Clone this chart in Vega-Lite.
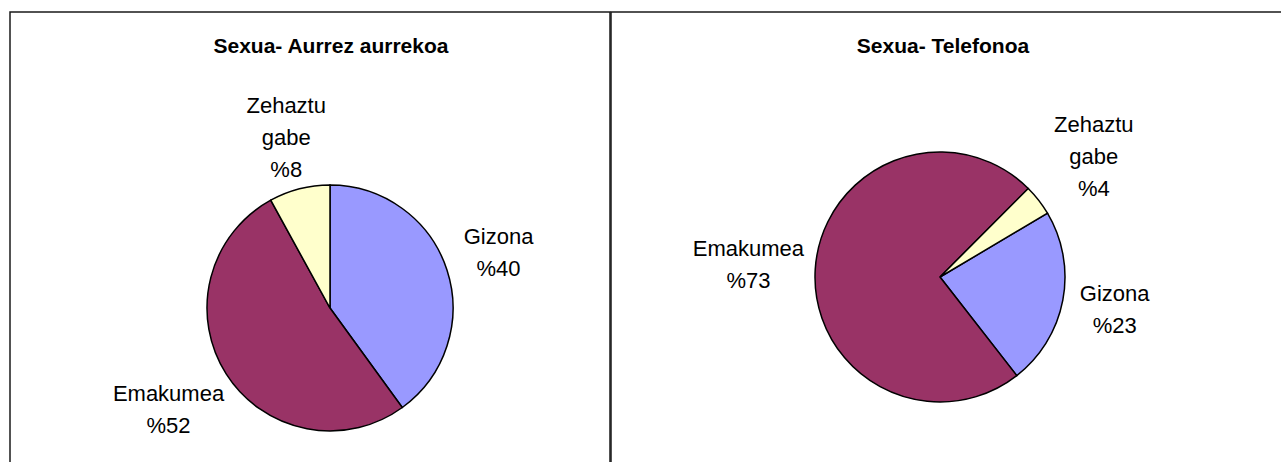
{
  "$schema": "https://vega.github.io/schema/vega-lite/v6.json",
  "background": "white",
  "padding": {"left": 9, "top": 11, "right": 0, "bottom": 0},
  "spacing": -1.5,
  "config": {
    "view": {"stroke": "#1a1a1a", "strokeWidth": 1.5},
    "font": "Liberation Sans"
  },
  "datasets": {
    "aurrez": [
      {"name": "Gizona", "value": 40, "ord": 1, "label": "Gizona\n%40"},
      {"name": "Emakumea", "value": 52, "ord": 2, "label": "Emakumea\n%52"},
      {"name": "Zehaztu gabe", "value": 8, "ord": 3, "label": "Zehaztu\ngabe\n%8"}
    ],
    "telefonoa": [
      {"name": "Gizona", "value": 23, "ord": 1, "label": "Gizona\n%23"},
      {"name": "Emakumea", "value": 73, "ord": 2, "label": "Emakumea\n%73"},
      {"name": "Zehaztu gabe", "value": 4, "ord": 3, "label": "Zehaztu\ngabe\n%4"}
    ]
  },
  "hconcat": [
    {
      "width": 600,
      "height": 460,
      "view": {"stroke": "#1a1a1a", "strokeWidth": 1.5, "fill": "white"},
      "data": {"name": "aurrez"},
      "title": {"text": "Sexua- Aurrez aurrekoa", "anchor": "middle", "dx": 21, "offset": -62, "baseline": "alphabetic", "fontSize": 21, "fontWeight": "bold", "color": "black", "font": "Liberation Sans"},
      "encoding": {
        "theta": {"field": "value", "type": "quantitative", "stack": true, "scale": {"range": [0, 6.283185]}},
        "order": {"field": "ord", "type": "quantitative"}
      },
      "layer": [
        {
          "mark": {"type": "arc", "outerRadius": 123, "stroke": "black", "strokeWidth": 1.5, "xOffset": 20, "yOffset": 66},
          "encoding": {"color": {"field": "name", "type": "nominal", "scale": {"domain": ["Gizona", "Emakumea", "Zehaztu gabe"], "range": ["#9999FF", "#993366", "#FFFFCC"]}, "legend": null}}
        },
        {
          "mark": {
            "type": "text", "xOffset": 20, "yOffset": 66, "fontSize": 22, "lineBreak": "\n", "lineHeight": 32, "align": "center", "baseline": "middle", "color": "black",
            "radius": {"expr": "123 + 8.2*length(split(datum.label,'\\n')[0])*abs(sin(PI*(datum.value_start+datum.value_end)/100)) + (16*length(split(datum.label,'\\n'))-8)*abs(cos(PI*(datum.value_start+datum.value_end)/100))"},
            "dy": {"expr": "-16*(length(split(datum.label,'\\n'))-1)"}
          },
          "encoding": {"text": {"field": "label", "type": "nominal"}}
        }
      ]
    },
    {
      "width": 680,
      "height": 460,
      "view": {"stroke": "#1a1a1a", "strokeWidth": 1.5, "fill": "white"},
      "data": {"name": "telefonoa"},
      "title": {"text": "Sexua- Telefonoa", "anchor": "middle", "dx": -8, "offset": -62, "baseline": "alphabetic", "fontSize": 21, "fontWeight": "bold", "color": "black", "font": "Liberation Sans"},
      "encoding": {
        "theta": {"field": "value", "type": "quantitative", "stack": true, "scale": {"range": [1.035, 7.318185]}},
        "order": {"field": "ord", "type": "quantitative"}
      },
      "layer": [
        {
          "mark": {"type": "arc", "outerRadius": 125, "stroke": "black", "strokeWidth": 1.5, "xOffset": -11, "yOffset": 35},
          "encoding": {"color": {"field": "name", "type": "nominal", "scale": {"domain": ["Gizona", "Emakumea", "Zehaztu gabe"], "range": ["#9999FF", "#993366", "#FFFFCC"]}, "legend": null}}
        },
        {
          "mark": {
            "type": "text", "xOffset": -11, "yOffset": 35, "fontSize": 22, "lineBreak": "\n", "lineHeight": 32, "align": "center", "baseline": "middle", "color": "black",
            "radius": {"expr": "125 + 8.2*length(split(datum.label,'\\n')[0])*abs(sin(1.035 + PI*(datum.value_start+datum.value_end)/100)) + (16*length(split(datum.label,'\\n'))-8)*abs(cos(1.035 + PI*(datum.value_start+datum.value_end)/100))"},
            "dy": {"expr": "-16*(length(split(datum.label,'\\n'))-1)"}
          },
          "encoding": {"text": {"field": "label", "type": "nominal"}}
        }
      ]
    }
  ]
}
